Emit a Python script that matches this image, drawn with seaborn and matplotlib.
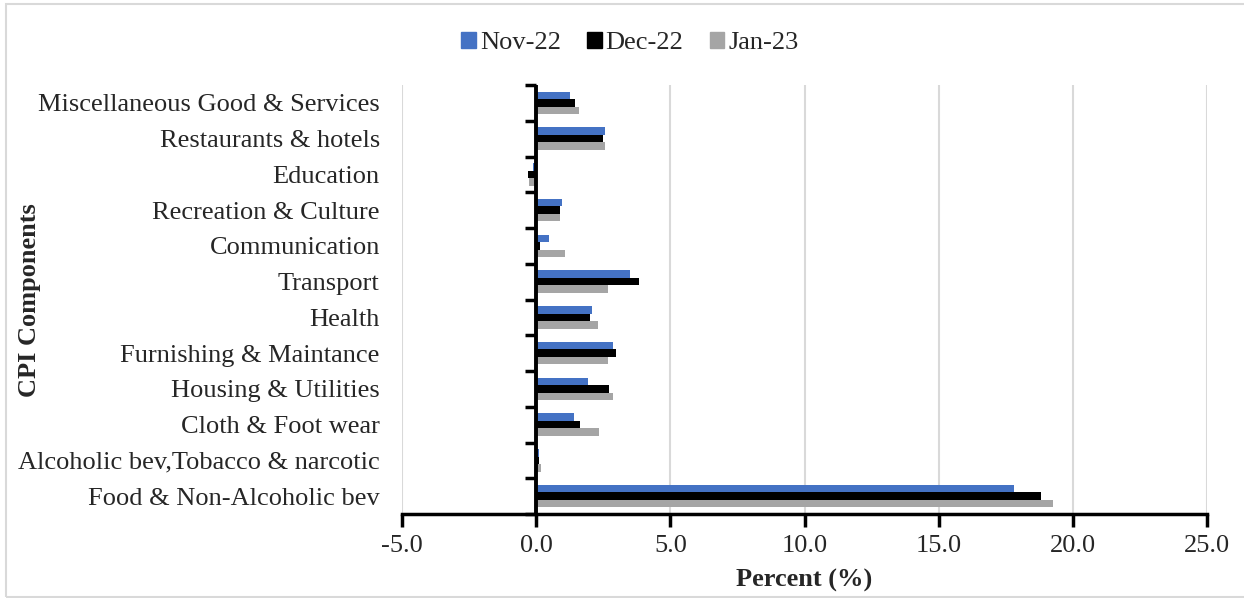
import matplotlib
matplotlib.use("Agg")
import matplotlib.pyplot as plt
from matplotlib.patches import Rectangle
from matplotlib.ticker import FormatStrFormatter
import pandas as pd
import seaborn as sns

# CPI components, listed top to bottom
components = [
    "Miscellaneous Good & Services",
    "Restaurants & hotels",
    "Education",
    "Recreation & Culture",
    "Communication",
    "Transport",
    "Health",
    "Furnishing & Maintance",
    "Housing & Utilities",
    "Cloth & Foot wear",
    "Alcoholic bev,Tobacco & narcotic",
    "Food & Non-Alcoholic bev",
]
months = ["Nov-22", "Dec-22", "Jan-23"]
nov_22 = [1.25, 2.58, -0.10, 0.95, 0.48, 3.50, 2.07, 2.87, 1.94, 1.42, 0.12, 17.80]
dec_22 = [1.45, 2.50, -0.30, 0.87, 0.15, 3.82, 2.02, 2.99, 2.70, 1.63, 0.12, 18.80]
jan_23 = [1.60, 2.55, -0.25, 0.90, 1.07, 2.67, 2.30, 2.68, 2.85, 2.36, 0.17, 19.25]
colors = ["#4472C4", "#000000", "#A5A5A5"]

df = pd.DataFrame({
    "component": components * 3,
    "month": [m for m in months for _ in components],
    "value": nov_22 + dec_22 + jan_23,
})

sns.set_theme(style="white")
plt.rcParams["font.family"] = ["Liberation Serif", "DejaVu Serif"]
plt.rcParams["axes.unicode_minus"] = False
FS = 19

fig = plt.figure(figsize=(12.44, 5.98), dpi=100)
ax = fig.add_axes([402 / 1244, 1 - 514 / 598, (1207 - 402) / 1244, (514 - 85) / 598])

sns.barplot(
    data=df, y="component", x="value", hue="month", order=components,
    hue_order=months, palette=colors, orient="h", width=0.63,
    linewidth=0, saturation=1, ax=ax, legend=False,
)

ax.set_xlim(-5, 25)
ax.set_ylim(len(components) - 0.5, -0.5)
ax.set_xticks([-5, 0, 5, 10, 15, 20, 25])
ax.xaxis.set_major_formatter(FormatStrFormatter("%.1f"))
ax.grid(axis="x", color="#D9D9D9", linewidth=1.5)
ax.grid(axis="y", visible=False)
ax.set_axisbelow(True)

for side in ("top", "right", "left"):
    ax.spines[side].set_visible(False)
ax.spines["bottom"].set_color("black")
ax.spines["bottom"].set_linewidth(2.5)
ax.tick_params(axis="x", direction="out", length=9, width=2.5, color="black",
               labelsize=FS, pad=6, bottom=True)
ax.tick_params(axis="y", length=0, labelsize=FS, pad=16)

ax.set_xlabel("Percent (%)", fontsize=FS, fontweight="bold", va="center")
ax.xaxis.set_label_coords(0.5, -(580 - 514) / (514 - 85))
ax.set_ylabel("")
fig.text(30 / 1244, 1 - 300 / 598, "CPI Components", rotation=90, fontsize=FS,
         fontweight="bold", ha="center", va="center")

# vertical category axis crossing at zero, with ticks between categories
zero_frac = (0 - (-5)) / (25 - (-5))
sec = ax.secondary_yaxis(zero_frac)
sec.set_yticks([i - 0.5 for i in range(len(components) + 1)])
sec.set_yticklabels([])
sec.tick_params(axis="y", direction="out", length=8, width=2.5, color="black")
for sp in sec.spines.values():
    sp.set_visible(False)
ax.axvline(0, color="black", linewidth=2.8, zorder=5)

handles = [Rectangle((0, 0), 1, 1, color=c) for c in colors]
fig.legend(handles, months, loc="center", bbox_to_anchor=(630 / 1244, 1 - 43 / 598),
           ncol=3, frameon=False, fontsize=FS, handlelength=0.55, handleheight=0.55,
           handletextpad=0.15, columnspacing=1.0)

# outer chart frame
fig.patches.append(Rectangle((6 / 1244, 1 - 597 / 598), 1.2, (597 - 4) / 598,
                             transform=fig.transFigure, fill=False,
                             edgecolor="#D9D9D9", linewidth=1.5))

fig.savefig("out.png", dpi=100)
